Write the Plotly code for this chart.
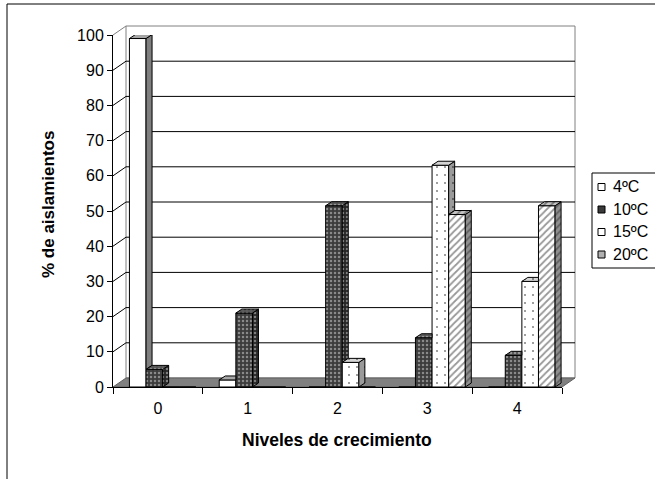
import plotly.graph_objects as go

# ---- data -------------------------------------------------------------
categories = ["0", "1", "2", "3", "4"]
series = ["4ºC", "10ºC", "15ºC", "20ºC"]
pct_4 = [99, 2, 0, 0, 0]
pct_10 = [5, 21, 51.5, 14, 9]
pct_15 = [0, 0, 7, 63, 30]
pct_20 = [0, 0, 0, 49, 51.5]
y_ticks = [0, 10, 20, 30, 40, 50, 60, 70, 80, 90, 100]

values = [pct_4, pct_10, pct_15, pct_20]
x_pos = list(range(len(categories)))

# ---- page geometry (pixels) ---------------------------------------------
W, H = 655, 479
L, R, T, B = 113, 93, 35, 92
PW, PH = W - L - R, H - T - B
WALL_DX, WALL_DY = 13, 9          # depth of the walls / floor
FONT = "Liberation Sans, Arial, sans-serif"


def px(x):
    return (x - L) / PW


def py(y):
    return (H - B - y) / PH


# bar box geometry in axis units
BAR_W = 0.185
OFF0 = -0.317
DX = 6 / (PW / 5)
DY = 4 / (PH / 100)

# face styles: front / side / top  (pattern shape, fg, bg)
styles = [
    dict(shape="", fg="black", size=8, sol=0.3,
         front="#ffffff", side="#7f7f7f", top="#a6a6a6"),
    dict(shape=".", fg="#d8d8d8", size=4, sol=0.3,
         front="#3c3c3c", side="#262626", top="#555555"),
    dict(shape=".", fg="#000000", size=8, sol=0.05,
         front="#ffffff", side="#9a9a9a", top="#d4d4d4"),
    dict(shape="/", fg="#303030", size=5, sol=0.35,
         front="#ffffff", side="#909090", top="#c4c4c4"),
]

fig = go.Figure()

# front faces of the columns
for i, name in enumerate(series):
    st = styles[i]
    fig.add_trace(go.Bar(
        x=x_pos, y=values[i], name=name, showlegend=False,
        width=BAR_W, offset=OFF0 + i * BAR_W,
        marker=dict(color=st["front"],
                    pattern=dict(shape=st["shape"], fgcolor=st["fg"],
                                 bgcolor=st["front"], size=st["size"],
                                 solidity=st["sol"]),
                    line=dict(color="black", width=1)),
        hoverinfo="skip",
    ))

# side and top faces, drawn as filled polygons
for i, name in enumerate(series):
    st = styles[i]
    sx, sy, tx, ty = [], [], [], []
    for c in x_pos:
        v = values[i][c]
        if not v:
            continue
        xl = c + OFF0 + i * BAR_W
        xr = xl + BAR_W
        vn = values[i + 1][c] if i + 1 < len(series) else 0
        if vn < v:
            sx += [xr, xr, xr + DX, xr + DX, xr, None]
            sy += [vn, v, v + DY, vn + DY, vn, None]
        if vn > v:
            tx += [xl, xr, xr, xl + DX, xl, None]
        else:
            tx += [xl, xr, xr + DX, xl + DX, xl, None]
        ty += [v, v, v + DY, v + DY, v, None]
    for fx, fy, col in ((sx, sy, st["side"]), (tx, ty, st["top"])):
        if not fx:
            continue
        kw = {}
        if st["shape"]:
            kw["fillpattern"] = dict(shape=st["shape"], fgcolor=st["fg"],
                                     bgcolor=col, size=st["size"],
                                     solidity=st["sol"])
        fig.add_trace(go.Scatter(
            x=fx, y=fy, mode="lines", fill="toself", fillcolor=col,
            line=dict(color="black", width=1), showlegend=False,
            hoverinfo="skip", **kw))

# ---- walls, floor and gridlines -------------------------------------------
shapes = []
# outer chart border
shapes.append(dict(type="rect", xref="paper", yref="paper", layer="below",
                   x0=px(7), y0=py(4), x1=px(W + 20), y1=py(H + 20),
                   line=dict(color="black", width=1), fillcolor="white"))
y0_px = H - B


def vy(v):
    return y0_px - v * PH / 100


# back wall
shapes.append(dict(type="rect", xref="paper", yref="paper", layer="below",
                   x0=px(L + WALL_DX), x1=px(W - R + WALL_DX),
                   y0=py(vy(0) - WALL_DY), y1=py(vy(100) - WALL_DY),
                   line=dict(color="#808080", width=1), fillcolor="white"))
# floor
floor = "M {} {} L {} {} L {} {} L {} {} Z".format(
    px(L), py(vy(0)), px(W - R), py(vy(0)),
    px(W - R + WALL_DX), py(vy(0) - WALL_DY), px(L + WALL_DX), py(vy(0) - WALL_DY))
shapes.append(dict(type="path", path=floor, xref="paper", yref="paper",
                   layer="below", fillcolor="#808080",
                   line=dict(color="#606060", width=1)))
# gridlines on the back wall and their diagonals on the side wall
for v in y_ticks[1:]:
    col = "#808080" if v == y_ticks[-1] else "black"
    if v != y_ticks[-1]:
        shapes.append(dict(type="line", xref="paper", yref="paper",
                           layer="below",
                           x0=px(L + WALL_DX), x1=px(W - R + WALL_DX),
                           y0=py(vy(v) - WALL_DY), y1=py(vy(v) - WALL_DY),
                           line=dict(color=col, width=1)))
    shapes.append(dict(type="line", xref="paper", yref="paper", layer="below",
                       x0=px(L), x1=px(L + WALL_DX),
                       y0=py(vy(v)), y1=py(vy(v) - WALL_DY),
                       line=dict(color=col, width=1)))

# ---- legend ----------------------------------------------------------------
annotations = []
LEG_X, LEG_Y0, LEG_Y1 = 592, 173, 268
shapes.append(dict(type="rect", xref="paper", yref="paper",
                   x0=px(LEG_X), x1=px(W + 20), y0=py(LEG_Y0), y1=py(LEG_Y1),
                   line=dict(color="black", width=1), fillcolor="white"))
legend_fill = ["#ffffff", "#3a3a3a", "#ffffff", "#b0b0b0"]
for k, name in enumerate(series):
    yc = 187 + k * 22.5
    shapes.append(dict(type="rect", xref="paper", yref="paper",
                       x0=px(598), x1=px(605), y0=py(yc - 3.5), y1=py(yc + 3.5),
                       line=dict(color="black", width=1),
                       fillcolor=legend_fill[k]))
    annotations.append(dict(xref="paper", yref="paper", x=px(611), y=py(yc),
                            text=name, showarrow=False, xanchor="left",
                            yanchor="middle",
                            font=dict(family=FONT, size=16, color="black")))

# axis titles
annotations.append(dict(xref="paper", yref="paper", x=px(48), y=py(205),
                        text="<b>% de aislamientos</b>", textangle=-90,
                        showarrow=False, xanchor="center", yanchor="middle",
                        font=dict(family=FONT, size=17, color="black")))
annotations.append(dict(xref="paper", yref="paper", x=px(337), y=py(440),
                        text="<b>Niveles de crecimiento</b>",
                        showarrow=False, xanchor="center", yanchor="middle",
                        font=dict(family=FONT, size=17.5, color="black")))

fig.update_layout(
    width=W, height=H,
    margin=dict(l=L, r=R, t=T, b=B, pad=0),
    paper_bgcolor="white", plot_bgcolor="rgba(0,0,0,0)",
    barmode="overlay", showlegend=False,
    shapes=shapes, annotations=annotations,
    font=dict(family=FONT, size=15, color="black"),
    xaxis=dict(range=[-0.5, 4.5], tickmode="array", tickvals=x_pos,
               ticktext=categories, ticks="outside", ticklen=7,
               tickcolor="rgba(0,0,0,0)", showline=True, linecolor="black",
               linewidth=1, showgrid=False, zeroline=False,
               tickfont=dict(family=FONT, size=16, color="black"),
               minor=dict(tickmode="array",
                          tickvals=[c - 0.5 for c in x_pos] + [x_pos[-1] + 0.5],
                          ticks="outside", ticklen=6, tickcolor="black",
                          showgrid=False)),
    yaxis=dict(range=[0, 100], tickmode="array", tickvals=y_ticks,
               ticks="outside", ticklen=5, tickcolor="black", showline=True,
               linecolor="black", linewidth=1, showgrid=False, zeroline=False,
               tickfont=dict(family=FONT, size=16, color="black")),
)

fig.write_html("out.html")
